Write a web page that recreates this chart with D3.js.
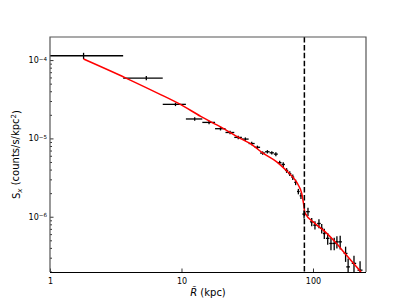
<!DOCTYPE html>
<html>
<head>
<meta charset="utf-8">
<script src="https://cdn.jsdelivr.net/npm/d3@7"></script>
<style>
  body { margin: 0; background: #fff; }
  svg { display: block; font-family: "DejaVu Sans", sans-serif; }
</style>
</head>
<body>
<script>

// surface brightness profile, binned data
var radius = [1.8, 5.4, 9.0, 12.6, 16.2, 19.8, 23.4, 27.0, 30.6, 34.2, 37.8, 41.4, 45.0, 48.6, 52.2,
              55.8, 59.4, 63.0, 66.6, 70.2, 73.8, 77.4, 81.0,
              85.5, 91.6, 97.8, 103.5, 111, 116.5, 121.9, 129.4, 137, 145, 152, 161, 177, 185, 205, 228];
var radiusErr = [1.8, 1.8, 1.8, 1.8, 1.8, 1.8, 1.8, 1.8, 1.8, 1.8, 1.8, 1.8, 1.8, 1.8, 1.8,
                 1.8, 1.8, 1.8, 1.8, 1.8, 1.8, 1.8, 1.8,
                 2.5, 3, 3, 3, 3.5, 3, 3, 4, 4, 4, 4, 5, 6, 6, 8, 10];
var sx = [1.135e-4, 5.89e-5, 2.72e-5, 1.77e-5, 1.60e-5, 1.33e-5, 1.19e-5, 1.03e-5, 9.8e-6, 8.6e-6, 7.7e-6, 6.5e-6, 6.75e-6, 6.55e-6, 6.3e-6,
          4.9e-6, 4.65e-6, 3.9e-6, 3.55e-6, 3.2e-6, 2.75e-6, 2.1e-6, 1.85e-6,
          1.08e-6, 1.16e-6, 8.6e-7, 7.8e-7, 8.2e-7, 7.1e-7, 6.1e-7, 5.3e-7, 4.56e-7, 4.56e-7, 4.78e-7, 4.78e-7, 3.4e-7, 2.29e-7, 2.54e-7, 2.08e-7];
var sxErr = [0.09, 0.06, 0.05, 0.05, 0.05, 0.05, 0.05, 0.05, 0.05, 0.05, 0.05, 0.05, 0.05, 0.05, 0.06,
             0.06, 0.07, 0.07, 0.07, 0.08, 0.08, 0.08, 0.09,
             0.12, 0.12, 0.12, 0.12, 0.13, 0.14, 0.15, 0.17, 0.18, 0.18, 0.18, 0.2, 0.22, 0.28, 0.25, 0.3];

// best-fit model curve
var modelR = [1.8, 3.78, 7.07, 9.74, 14.0, 20.0, 27.9, 33.2, 41.9, 53.0, 62.0, 70.8, 77.3, 82.0, 84.7, 86.9, 103.6, 123.4, 147.0, 175.1, 232];
var modelS = [1.03e-4, 5.89e-5, 3.57e-5, 2.74e-5, 1.91e-5, 1.39e-5, 1.0e-5, 8.63e-6, 6.43e-6, 5.02e-6, 3.96e-6, 3.16e-6, 2.54e-6, 2.0e-6, 1.48e-6, 1.12e-6, 8.21e-7, 6.45e-7, 4.78e-7, 3.40e-7, 1.97e-7];

var edgeR = 86; // dashed line

var xMajor = [1, 10, 100];
var xTickLabels = ["1", "10", "100"];
var xMinor = [2, 3, 4, 5, 6, 7, 8, 9, 20, 30, 40, 50, 60, 70, 80, 90, 200];
var yMajor = [1e-6, 1e-5, 1e-4];
var yTickExp = ["\u22126", "\u22125", "\u22124"];
var yMinor = [];
[1e-7, 1e-6, 1e-5, 1e-4].forEach(function(b) {
    for (var k = 2; k <= 9; k++) yMinor.push(b * k);
});

var width = 407, height = 306;
var margin = {left: 50, top: 37, right: 41, bottom: 34};

var svg = d3.select("body").append("svg")
    .attr("width", width)
    .attr("height", height);

var x = d3.scaleLog().domain([1, 253]).range([margin.left, width - margin.right]);
var y = d3.scaleLog().domain([1.97e-7, 1.97e-4]).range([height - margin.bottom, margin.top]);
yMinor = yMinor.filter(function(v) { return v > y.domain()[0] && v < y.domain()[1]; });

svg.append("clipPath").attr("id", "clip")
  .append("rect")
    .attr("x", margin.left).attr("y", margin.top)
    .attr("width", width - margin.left - margin.right)
    .attr("height", height - margin.top - margin.bottom);

var plot = svg.append("g").attr("clip-path", "url(#clip)");

// error bars
var pts = radius.map(function(r, i) {
    return {r: r, re: radiusErr[i], s: sx[i], se: sx[i] * sxErr[i]};
});

plot.append("g").selectAll("line.h")
    .data(pts).enter().append("line")
    .attr("x1", function(d) { return x(Math.max(d.r - d.re, 0.01)); })
    .attr("x2", function(d) { return x(d.r + d.re); })
    .attr("y1", function(d) { return y(d.s); })
    .attr("y2", function(d) { return y(d.s); })
    .attr("stroke", "#000").attr("stroke-width", 1.3);

plot.append("g").selectAll("line.v")
    .data(pts).enter().append("line")
    .attr("x1", function(d) { return x(d.r); })
    .attr("x2", function(d) { return x(d.r); })
    .attr("y1", function(d) { return y(d.s - d.se); })
    .attr("y2", function(d) { return y(d.s + d.se); })
    .attr("stroke", "#000").attr("stroke-width", 1.3);

// model
var line = d3.line()
    .x(function(d) { return x(d[0]); })
    .y(function(d) { return y(d[1]); })
    .curve(d3.curveMonotoneX);

plot.append("path")
    .datum(modelR.map(function(r, i) { return [r, modelS[i]]; }))
    .attr("d", line)
    .attr("fill", "none")
    .attr("stroke", "red")
    .attr("stroke-width", 1.5);

// edge position
plot.append("line")
    .attr("x1", x(edgeR)).attr("x2", x(edgeR))
    .attr("y1", margin.top).attr("y2", height - margin.bottom)
    .attr("stroke", "#000")
    .attr("stroke-width", 1.5)
    .attr("stroke-dasharray", "5.5,2.4");

// axes, ticks pointing inwards
var gx = svg.append("g")
    .attr("transform", "translate(0," + (height - margin.bottom) + ")");
gx.call(d3.axisBottom(x).tickValues(xMinor).tickSize(-2).tickFormat(""));
gx.call(d3.axisBottom(x).tickValues(xMajor).tickSize(-3.5).tickPadding(6)
    .tickFormat(function(d, i) { return xTickLabels[i]; }));
gx.selectAll(".domain").remove();
gx.selectAll("text").attr("fill", "#000").style("font-size", "8px")
    .attr("font-family", "DejaVu Sans");

var gy = svg.append("g")
    .attr("transform", "translate(" + margin.left + ",0)");
gy.call(d3.axisLeft(y).tickValues(yMinor).tickSize(-2).tickFormat(""));
var gyMaj = gy.append("g");
gyMaj.call(d3.axisLeft(y).tickValues(yMajor).tickSize(-3.5).tickPadding(4).tickFormat(""));
gy.selectAll(".domain").remove();
gyMaj.selectAll(".tick text").each(function(d, i) {
    var t = d3.select(this)
        .attr("fill", "#000")
        .attr("dy", "0.32em")
        .attr("x", -3)
        .style("font-size", "8px")
        .attr("font-family", "DejaVu Sans");
    t.append("tspan").text("10");
    t.append("tspan").attr("dy", "-0.45em").style("font-size", "5.6px").text(yTickExp[i]);
});
svg.selectAll(".tick line").attr("stroke", "#000").attr("stroke-width", 0.8);

// frame
var x0 = margin.left, x1 = width - margin.right, y0 = margin.top, y1 = height - margin.bottom;
svg.append("path")
    .attr("d", "M" + x0 + "," + y1 + "V" + y0 + "H" + x1 + "V" + y1)
    .attr("fill", "none").attr("stroke", "#555").attr("stroke-width", 1.2);
svg.append("line")
    .attr("x1", x0).attr("x2", x1).attr("y1", y1 + 0.5).attr("y2", y1 + 0.5)
    .attr("stroke", "#000").attr("stroke-width", 1);

// labels
var xl = svg.append("text")
    .attr("x", (x0 + x1) / 2).attr("y", 295.5)
    .attr("text-anchor", "middle")
    .style("font-size", "10px");
xl.append("tspan").style("font-style", "italic").text("R\u0303");
xl.append("tspan").text(" (kpc)");

var yl = svg.append("text")
    .attr("transform", "translate(20," + ((y0 + y1) / 2) + ") rotate(-90)")
    .attr("text-anchor", "middle")
    .style("font-size", "10px");
yl.append("tspan").text("S");
yl.append("tspan").attr("dy", "0.3em").style("font-size", "7px").style("font-style", "italic").text("x");
yl.append("tspan").attr("dy", "-0.3em").text(" (counts/s/kpc");
yl.append("tspan").attr("dy", "-0.45em").style("font-size", "7px").text("2");
yl.append("tspan").attr("dy", "0.45em").text(")");

</script>
</body>
</html>
